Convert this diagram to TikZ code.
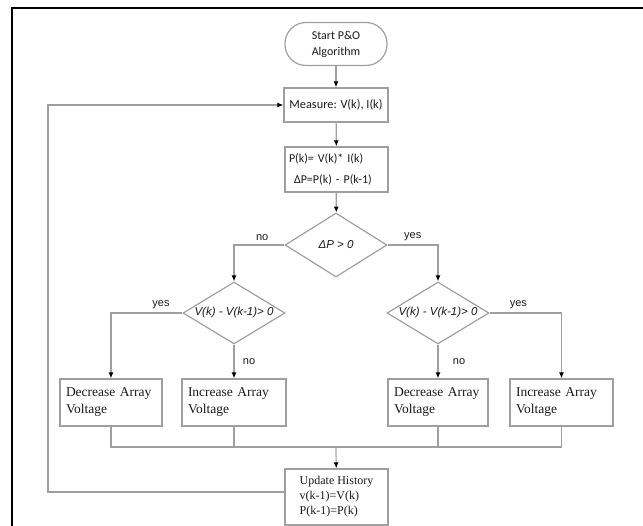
\documentclass[tikz,border=0pt]{standalone}
\usepackage{fontspec}
\setmainfont{Liberation Serif}
\newfontfamily\calibri{Carlito}
\newfontfamily\arial{Liberation Sans}
\usetikzlibrary{shapes.geometric,arrows.meta}

\begin{document}
\begin{tikzpicture}[x=1pt,y=-1pt,>={Latex[black,length=6pt,width=5pt]},
    box/.style={draw=gray!75,line width=1.2pt,inner sep=0pt,text=black!90},
    decision/.style={diamond,draw=gray!75,line width=1.2pt,minimum width=102pt,minimum height=62pt,inner sep=0pt},
    dtext/.style={font=\arial\itshape\fontsize{11.5}{13}\selectfont,text=black!90},
    flow/.style={draw=gray!75,line width=1.2pt},
    lbl/.style={font=\arial\fontsize{11}{13}\selectfont,text=black!90},
    action/.style={box,minimum height=47pt,align=left,font=\fontsize{13.5}{17}\selectfont}]
    \useasboundingbox (0,0) rectangle (643,526);
    % frame of the figure
    \draw[line width=1.5pt] (12,526) -- (12,8) -- (643,8);
    % top of the chart
    \node[box,rounded corners=21pt,minimum width=102pt,minimum height=43pt,align=center,
        font=\calibri\fontsize{12}{16}\selectfont] (start) at (336,44) {Start P\&O\\Algorithm};
    \node[box,minimum width=104pt,minimum height=34pt,font=\calibri\fontsize{12.3}{13}\selectfont]
        (meas) at (336,105) {Measure: V(k), I(k)};
    \node[box,minimum width=103pt,minimum height=45pt,text width=95pt,align=left,
        font=\calibri\fontsize{12}{21}\selectfont] (pk) at (336.5,169.5)
        {P(k)= V(k)* I(k)\\\hspace*{5pt}ΔP=P(k) - P(k-1)};
    % decisions
    \node[decision,minimum height=64pt] (dp) at (336,245) {};
    \node[dtext] (dptxt) at (dp.center) {ΔP > 0};
    \node[decision] (dl) at (234,313) {};
    \node[dtext] (dltxt) at (dl.center) {V(k) - V(k-1)> 0};
    \node[decision] (dr) at (438,313) {};
    \node[dtext] (drtxt) at (dr.center) {V(k) - V(k-1)> 0};
    % actions
    \node[action,minimum width=102pt,text width=90pt] (decL) at (111,402.5) {Decrease Array\\Voltage};
    \node[action,minimum width=104pt,text width=92pt] (incL) at (234,402.5) {Increase Array\\Voltage};
    \node[action,minimum width=100pt,text width=88pt] (decR) at (438,402.5) {Decrease Array\\Voltage};
    \node[action,minimum width=103pt,text width=91pt] (incR) at (561.5,402.5) {Increase Array\\Voltage};
    \node[box,minimum width=103pt,minimum height=56pt,align=left,
        font=\fontsize{12}{15}\selectfont] (upd) at (336.5,497)
        {Update History\\v(k-1)=V(k)\\P(k-1)=P(k)};
    \coordinate (merge) at (336,447);
    \coordinate (loop) at (48,492);
    % connectors
    \draw[flow,->] (start) -- (meas);
    \draw[flow,->] (meas) -- (pk);
    \draw[flow,->] (pk) -- (dp);
    \draw[flow,->] (dp.west) -| node[lbl,pos=0.22,above]{no} (dl.north);
    \draw[flow,->] (dp.east) -| node[lbl,pos=0.25,above]{yes} (dr.north);
    \draw[flow,->] (dl.west) -| node[lbl,pos=0.15,above]{yes} (decL.north);
    \draw[flow,->] (dl.south) -- node[lbl,right=5pt]{no} (incL.north);
    \draw[flow,->] (dr.east) -| node[lbl,pos=0.2,above]{yes} (incR.north);
    \draw[flow,->] (dr.south) -- node[lbl,right=11pt]{no} (decR.north);
    \draw[flow] (decL.south) |- (incR.south |- merge) -- (incR.south);
    \draw[flow] (incL.south) -- (incL.south |- merge);
    \draw[flow] (decR.south) -- (decR.south |- merge);
    \draw[flow,->] (merge) -- (upd);
    \draw[flow,->] (upd.west |- loop) -- (loop) |- (meas.west);
\end{tikzpicture}
\end{document}
